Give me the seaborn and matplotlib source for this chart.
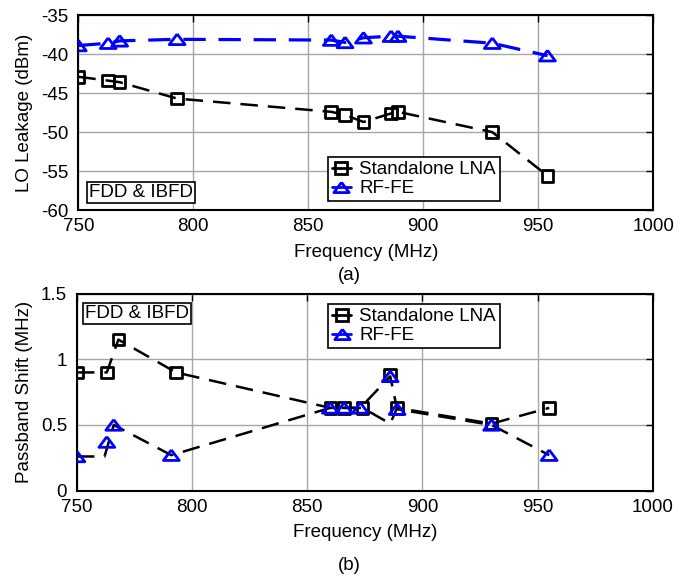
import numpy as np
import pandas as pd
import matplotlib
matplotlib.use("Agg")
import matplotlib.pyplot as plt
from matplotlib.lines import Line2D
from matplotlib.ticker import MultipleLocator, FormatStrFormatter
import seaborn as sns

# ── Data ──────────────────────────────────────────────
# (a) LO leakage
freq_a = [750, 763, 768, 793, 860, 866, 874, 886, 889, 930, 954]
lna_a = [-42.9, -43.4, -43.6, -45.7, -47.4, -47.8, -48.7, -47.6, -47.4, -50.0, -55.6]
rffe_a = [-38.9, -38.6, -38.3, -38.1, -38.2, -38.5, -37.9, -37.7, -37.7, -38.6, -40.2]

# (b) passband shift, markers
freq_b_lna = [750, 763, 768, 793, 860, 866, 874, 886, 889, 930, 955]
lna_b = [0.90, 0.90, 1.15, 0.90, 0.63, 0.63, 0.63, 0.88, 0.63, 0.51, 0.63]
freq_b_rffe = [750, 763, 766, 791, 860, 866, 873, 886, 889, 930, 955]
rffe_b = [0.26, 0.37, 0.50, 0.27, 0.63, 0.63, 0.63, 0.87, 0.62, 0.50, 0.27]
# (b) dashed line paths (they don't pass through every marker in the original)
lna_b_path_x = [750, 763, 768, 793, 860, 866, 874, 886, 889, 930, 955]
lna_b_path_y = [0.90, 0.90, 1.15, 0.90, 0.63, 0.63, 0.63, 0.51, 0.63, 0.51, 0.63]
rffe_b_path_x = [750, 762, 766, 791, 860, 866, 873, 886, 889, 930, 955]
rffe_b_path_y = [0.26, 0.26, 0.50, 0.27, 0.63, 0.63, 0.63, 0.87, 0.62, 0.50, 0.27]

LABELS = ["Standalone LNA", "RF-FE"]
BLUE = "#0000ff"
TRI = [(0, 1), (-1.5, -1), (1.5, -1), (0, 1)]  # wide MATLAB-ish triangle
DASH = (7, 4)

sns.set_style("white")
plt.rcParams["font.family"] = ["Liberation Sans", "DejaVu Sans"]
plt.rcParams["axes.unicode_minus"] = False
plt.rcParams["text.color"] = "black"
plt.rcParams["axes.labelcolor"] = "black"
FS = 13.5


def style_axes(ax, ylim, ystep, fmt):
    ax.set_xlim(750, 1000)
    ax.set_ylim(*ylim)
    ax.xaxis.set_major_locator(MultipleLocator(50))
    ax.yaxis.set_major_locator(MultipleLocator(ystep))
    ax.yaxis.set_major_formatter(FormatStrFormatter(fmt))
    ax.grid(True, color="#a6a6a6", lw=1)
    ax.set_axisbelow(True)
    ax.tick_params(direction="in", length=5, width=1, top=True, right=True,
                   labelsize=FS, colors="black", pad=6)
    ax.tick_params(axis="y", pad=7)
    for s in ax.spines.values():
        s.set_visible(True)
        s.set_color("black")
        s.set_linewidth(1.5)
    ax.set_xlabel("Frequency (MHz)", fontsize=FS, labelpad=6)


def draw_line(ax, x, y, color, lw):
    sns.lineplot(x=x, y=y, ax=ax, color=color, lw=lw, sort=False,
                 estimator=None, zorder=3)
    ax.lines[-1].set_dashes(DASH)


def draw_markers(ax, x, y, color, marker, size):
    sns.scatterplot(x=x, y=y, ax=ax, marker=marker, s=size, facecolors="none",
                    edgecolor=color, linewidth=2, zorder=4, legend=False)


def add_legend(ax, anchor):
    handles = [
        Line2D([], [], color="black", lw=2, marker="s", markersize=8,
               markerfacecolor="none", markeredgewidth=2),
        Line2D([], [], color=BLUE, lw=2, marker=TRI, markersize=11,
               markerfacecolor="none", markeredgewidth=2),
    ]
    leg = ax.legend(handles, LABELS, loc="upper left", bbox_to_anchor=anchor,
                    borderaxespad=0, fontsize=FS, handlelength=1.0,
                    handletextpad=0.45, borderpad=0.22, labelspacing=0.1,
                    fancybox=False, framealpha=1, edgecolor="black")
    leg.get_frame().set_linewidth(1.2)
    leg.set_zorder(6)
    for t in leg.get_texts():
        t.set_color("black")


def add_tag(ax, xy, va):
    ax.text(xy[0], xy[1], "FDD & IBFD", transform=ax.transAxes, fontsize=FS,
            ha="left", va=va, zorder=6, color="black",
            bbox=dict(boxstyle="square,pad=0.1", fc="white", ec="black", lw=1.2))


fig = plt.figure(figsize=(6.99, 5.82), dpi=100)
ax1 = fig.add_axes([0.112, 0.639, 0.8226, 0.335])
ax2 = fig.add_axes([0.110, 0.157, 0.824, 0.3385])

# (a)
draw_line(ax1, freq_a, lna_a, "black", 1.8)
draw_line(ax1, freq_a, rffe_a, BLUE, 2.3)
draw_markers(ax1, freq_a, lna_a, "black", "s", 70)
draw_markers(ax1, freq_a, rffe_a, BLUE, TRI, 130)
style_axes(ax1, (-60, -35), 5, "%g")
ax1.set_ylabel("LO Leakage (dBm)", fontsize=FS, labelpad=6)
add_legend(ax1, (0.434, 0.272))
add_tag(ax1, (0.019, 0.046), "bottom")

# (b)
draw_line(ax2, lna_b_path_x, lna_b_path_y, "black", 1.8)
draw_line(ax2, rffe_b_path_x, rffe_b_path_y, "black", 1.8)
draw_markers(ax2, freq_b_lna, lna_b, "black", "s", 70)
draw_markers(ax2, freq_b_rffe, rffe_b, BLUE, TRI, 130)
style_axes(ax2, (0, 1.5), 0.5, "%g")
ax2.set_ylabel("Passband Shift (MHz)", fontsize=FS, labelpad=6)
add_legend(ax2, (0.436, 0.948))
add_tag(ax2, (0.014, 0.943), "top")

fig.text(0.5, 1 - 276 / 582, "(a)", ha="center", va="center", fontsize=FS)
fig.text(0.5, 1 - 565 / 582, "(b)", ha="center", va="center", fontsize=FS)

fig.savefig("out.png", dpi=100)
